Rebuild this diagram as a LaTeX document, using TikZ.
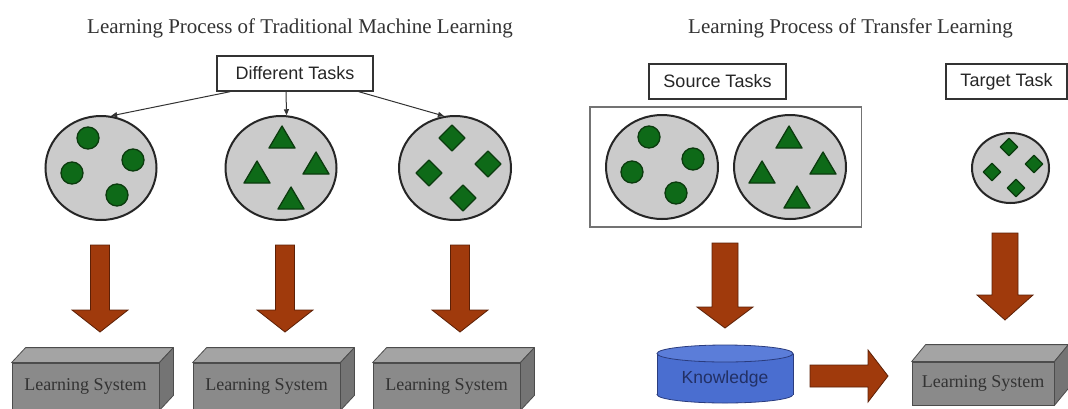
\documentclass[tikz,border=0pt]{standalone}
\usepackage{fontspec}
\setmainfont{Liberation Serif}
\newfontfamily\sansarial{Liberation Sans}
\usetikzlibrary{shapes.geometric,calc,arrows.meta}

\definecolor{discgray}{HTML}{CBCBCB}
\definecolor{leafgreen}{HTML}{0E6A18}
\definecolor{leafedge}{HTML}{0B3B0E}
\definecolor{rust}{HTML}{A03A0C}
\definecolor{rustedge}{HTML}{5C2006}
\definecolor{slab}{HTML}{8A8A8A}
\definecolor{slabtop}{HTML}{A4A4A4}
\definecolor{slabside}{HTML}{747474}
\definecolor{kblue}{HTML}{4A6ED0}
\definecolor{kbluetop}{HTML}{5B7DD9}
\definecolor{kedge}{HTML}{2A3C7E}
\definecolor{ink}{HTML}{333333}

\tikzset{
  title/.style={font=\fontsize{21}{25}\selectfont, text=ink, inner sep=0pt},
  taskbox/.style={draw=ink, line width=1.3pt, fill=white, minimum height=35,
    font=\sansarial\fontsize{18}{21}\selectfont, text=black!85, inner sep=0pt},
  disc/.style={ellipse, draw=black!85, line width=2pt, fill=discgray, inner sep=0pt},
  leaf/.style={fill=leafgreen, draw=leafedge, line width=1.3pt, line join=round},
  pointer/.style={-{Triangle[length=6pt,width=5pt]}, draw=ink, line width=1pt},
  slabfront/.style={rectangle, draw=black!70, line width=0.8pt, fill=slab,
    font=\fontsize{18}{21}\selectfont, text=ink, inner sep=0pt},
  slabtopface/.style={fill=slabtop, draw=black!70, line width=0.8pt, line join=round},
  slabsideface/.style={fill=slabside, draw=black!70, line width=0.8pt, line join=round},
  bigarrow/.style={fill=rust, draw=rustedge, line width=0.8pt, line join=miter},
  groupframe/.style={draw=black!55, line width=1.2pt},
  cyl/.style={fill=kblue, draw=kedge, line width=0.8pt},
  cyltop/.style={fill=kbluetop, draw=kedge, line width=0.8pt},
}

% small green markers: centre x, centre y
\newcommand\greendot[2]{\filldraw[leaf] (#1,#2) circle[radius=11];}
\newcommand\greentri[2]{\filldraw[leaf] (#1-13,#2+11) -- (#1+13,#2+11) -- (#1,#2-11) -- cycle;}
% diamond: centre x, centre y, half diagonal
\newcommand\greendia[3]{\filldraw[leaf] (#1,#2-#3) -- (#1+#3,#2) -- (#1,#2+#3) -- (#1-#3,#2) -- cycle;}
% downward block arrow: cx, top, neck, tip, shaft half width, head half width
\newcommand\droparrow[6]{\filldraw[bigarrow] (#1-#5,#2) -- (#1+#5,#2) -- (#1+#5,#3) -- (#1+#6,#3)
  -- (#1,#4) -- (#1-#6,#3) -- (#1-#5,#3) -- cycle;}
% top and side faces of a slab whose front face is node #1, depth offsets #2 (x) and #3 (y)
\newcommand\slabfaces[3]{%
  \filldraw[slabtopface] (#1.north west) -- ++(#2,-#3) -- ($(#1.north east)+(#2,-#3)$) -- (#1.north east) -- cycle;
  \filldraw[slabsideface] (#1.north east) -- ++(#2,-#3) -- ($(#1.south east)+(#2,-#3)$) -- (#1.south east) -- cycle;}

\begin{document}
\begin{tikzpicture}[x=1pt, y=-1pt]
\useasboundingbox (0,0) rectangle (1068,408);
\clip (0,0) rectangle (1068,408);
\fill[white] (0,0) rectangle (1068,408);

% ---------- traditional machine learning ----------
\node[title] (ttlA) at (300,28) {Learning Process of Traditional Machine Learning};
\node[taskbox, minimum width=156] (dt) at (295,73.5) {Different Tasks};

\node[disc, minimum width=111, minimum height=104] (c1) at (101,168) {};
\node[disc, minimum width=111, minimum height=104] (c2) at (281,168) {};
\node[disc, minimum width=112, minimum height=104] (c3) at (455,168) {};

\draw[pointer] ($(dt.south west)+(14,0)$) -- (c1.79);
\draw[pointer] ($(dt.south)+(-9,0)$) -- (c2.84);
\draw[pointer] ($(dt.south east)+(-15,0)$) -- (c3.102);

\greendot{88}{138} \greendot{133}{160} \greendot{72}{173} \greendot{117}{195}
\greentri{282}{137} \greentri{257}{172} \greentri{316}{163} \greentri{291}{198}
\greendia{452}{138}{13} \greendia{488}{164}{13} \greendia{429}{173}{13} \greendia{463}{198}{13}

\droparrow{100}{245}{310}{332}{9.5}{28}
\droparrow{285}{245}{310}{332}{9.5}{28}
\droparrow{460}{245}{310}{332}{9.5}{28}

\node[slabfront, minimum width=147, minimum height=47] (ls1) at (85.5,386.5) {Learning System};
\node[slabfront, minimum width=147, minimum height=47] (ls2) at (266.5,386.5) {Learning System};
\node[slabfront, minimum width=147, minimum height=47] (ls3) at (446.5,386.5) {Learning System};
\slabfaces{ls1}{14}{15}
\slabfaces{ls2}{14}{15}
\slabfaces{ls3}{14}{15}

% ---------- transfer learning ----------
\node[title] (ttlB) at (850.5,28) {Learning Process of Transfer Learning};
\node[taskbox, minimum width=137] (st) at (717.5,81.5) {Source Tasks};
\node[taskbox, minimum width=121] (tt) at (1006.5,81.5) {Target Task};

\draw[groupframe] (590,107) rectangle (861.5,227);

\node[disc, minimum width=112, minimum height=104] (ca) at (662,167) {};
\node[disc, minimum width=112, minimum height=104] (cb) at (790,167) {};
\node[disc, minimum width=77, minimum height=70] (ct) at (1010.5,168) {};

\greendot{649}{137} \greendot{693}{159} \greendot{632}{172} \greendot{676}{193}
\greentri{789}{137} \greentri{762}{172} \greentri{823}{163} \greentri{797}{197}
\greendia{1009}{147}{8.7} \greendia{1034}{164}{8.7} \greendia{992}{172}{8.7} \greendia{1016}{188}{8.7}

\droparrow{725}{243}{307}{328}{13}{28}
\droparrow{1005}{233}{295}{320}{13}{28}

% knowledge store
\filldraw[cyl] (725,394.5) ellipse[x radius=68, y radius=8.5];
\fill[kblue] (657,353.5) rectangle (793,394.5);
\draw[kedge, line width=0.8pt] (657,353.5) -- (657,394.5) (793,353.5) -- (793,394.5);
\filldraw[cyltop] (725,353.5) ellipse[x radius=68, y radius=8.5];
\node[font=\sansarial\fontsize{17.5}{20}\selectfont, text=kedge!80!black, inner sep=0pt] (kn) at (725,379) {Knowledge};

% transfer arrow
\filldraw[bigarrow] (810,365) -- (868,365) -- (868,350) -- (888,376) -- (868,402) -- (868,387) -- (810,387) -- cycle;

\node[slabfront, minimum width=142, minimum height=43] (ls4) at (983,383.5) {Learning System};
\slabfaces{ls4}{14}{17}
\end{tikzpicture}
\end{document}
